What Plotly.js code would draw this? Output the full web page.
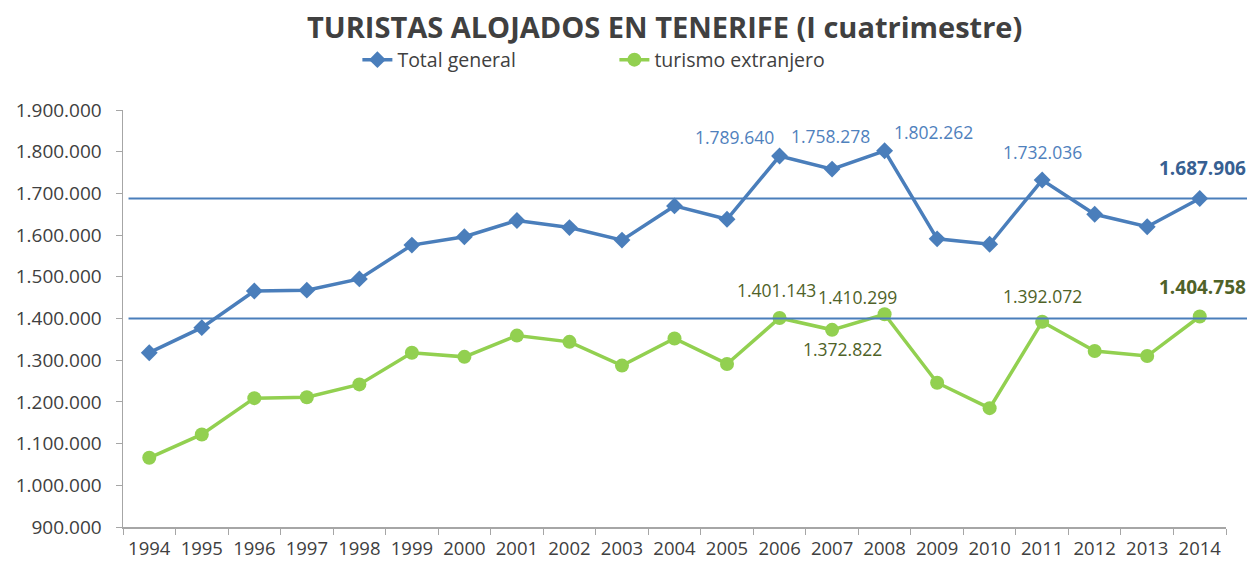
<!DOCTYPE html>
<html>
<head>
<meta charset="utf-8">
<script src="https://cdn.plot.ly/plotly-3.0.1.min.js"></script>
<style>html,body{margin:0;padding:0;background:#fff;}#chart{width:1247px;height:563px;}</style>
</head>
<body>
<div id="chart"></div>
<script>
const years = ['1994','1995','1996','1997','1998','1999','2000','2001','2002','2003','2004','2005','2006','2007','2008','2009','2010','2011','2012','2013','2014'];
const totalGeneral = [1318000,1378000,1466000,1468000,1495000,1576000,1596000,1635000,1618000,1588000,1670000,1638000,1789640,1758278,1802262,1591000,1578000,1732036,1650000,1620000,1687906];
const turismoExtranjero = [1066000,1122000,1209000,1211000,1242000,1318000,1308000,1359000,1344000,1287000,1352000,1291000,1401143,1372822,1410299,1246000,1185000,1392072,1322000,1310000,1404758];
const refLines = [1687906, 1400000];
const seriesNames = ['Total general','turismo extranjero'];
const titleText = 'TURISTAS ALOJADOS EN TENERIFE (I cuatrimestre)';

// indices of labelled points and their label placement (style only)
const blueLabels = [
  {i:12, dx:-45, dy:19},
  {i:13, dx:-2, dy:33},
  {i:14, dx:49, dy:19},
  {i:17, dx:0, dy:28},
  {i:20, dx:3, dy:30, bold:true}
];
const greenLabels = [
  {i:12, dx:-3, dy:28},
  {i:13, dx:10, dy:-19},
  {i:14, dx:-27, dy:17},
  {i:17, dx:0, dy:26},
  {i:20, dx:3, dy:30, bold:true}
];

const fmt = v => Math.round(v).toString().replace(/\B(?=(\d{3})+(?!\d))/g, '.');
const FONT = 'Open Sans, Noto Sans, sans-serif';
const BLUE = '#4A7EBB';
const GREEN = '#92D050';

const annotations = [];
blueLabels.forEach(l => annotations.push({
  x: l.i, y: totalGeneral[l.i], xref:'x', yref:'y', showarrow:false,
  text: l.bold ? '<b>'+fmt(totalGeneral[l.i])+'</b>' : fmt(totalGeneral[l.i]),
  xshift:l.dx, yshift:l.dy,
  font:{family:FONT, size:l.bold?19:17.5, color:l.bold?'#376092':'#4F81BD'}
}));
greenLabels.forEach(l => annotations.push({
  x: l.i, y: turismoExtranjero[l.i], xref:'x', yref:'y', showarrow:false,
  text: l.bold ? '<b>'+fmt(turismoExtranjero[l.i])+'</b>' : fmt(turismoExtranjero[l.i]),
  xshift:l.dx, yshift:l.dy,
  font:{family:FONT, size:l.bold?19:17.5, color:'#4F6228'}
}));

const shapes = refLines.map(v => ({
  type:'line', xref:'paper', yref:'y', x0:0.005, x1:1.02, y0:v, y1:v,
  line:{color:'#4A7EBB', width:2}, layer:'above'
}));

const traces = [
  {x:years, y:totalGeneral, name:seriesNames[0], type:'scatter', mode:'lines+markers',
   line:{color:BLUE, width:3.5}, marker:{symbol:'diamond', size:13, color:BLUE}},
  {x:years, y:turismoExtranjero, name:seriesNames[1], type:'scatter', mode:'lines+markers',
   line:{color:GREEN, width:3.5}, marker:{symbol:'circle', size:14, color:GREEN}}
];

const layout = {
  width:1247, height:563,
  margin:{l:123, r:21, t:110, b:36},
  paper_bgcolor:'#fff', plot_bgcolor:'#fff',
  separators:',.',
  font:{family:FONT, color:'#595959', size:18},
  title:{text:'<b>'+titleText+'</b>', x:0.533, xanchor:'center', y:0.95, yanchor:'middle',
         font:{family:FONT, size:29, color:'#404040'}},
  showlegend:true,
  legend:{orientation:'h', x:0.2125, xanchor:'left', y:1.12, yanchor:'middle',
          font:{family:FONT, size:19.5, color:'#404040'}, entrywidth:212, entrywidthmode:'pixels',
          bgcolor:'rgba(0,0,0,0)'},
  xaxis:{type:'category', range:[-0.5, years.length - 0.5], autorange:false,
         tickson:'boundaries', ticks:'outside', ticklen:6, tickcolor:'#A6A6A6',
         showline:true, linecolor:'#A6A6A6', linewidth:1.5, showgrid:false, zeroline:false,
         ticklabelstandoff:4,
         tickangle:0, tickfont:{family:FONT, size:18.5, color:'#404040'}, fixedrange:true},
  yaxis:{range:[900000,1900000], dtick:100000, tickformat:',d', ticks:'outside', ticklen:6,
         tickcolor:'#A6A6A6', showline:true, linecolor:'#A6A6A6', linewidth:1.5,
         showgrid:false, zeroline:false, ticklabelstandoff:10,
         tickfont:{family:FONT, size:19, color:'#404040'}, fixedrange:true},
  shapes:shapes,
  annotations:annotations
};

Plotly.newPlot('chart', traces, layout, {displayModeBar:false, staticPlot:true});
</script>
</body>
</html>
